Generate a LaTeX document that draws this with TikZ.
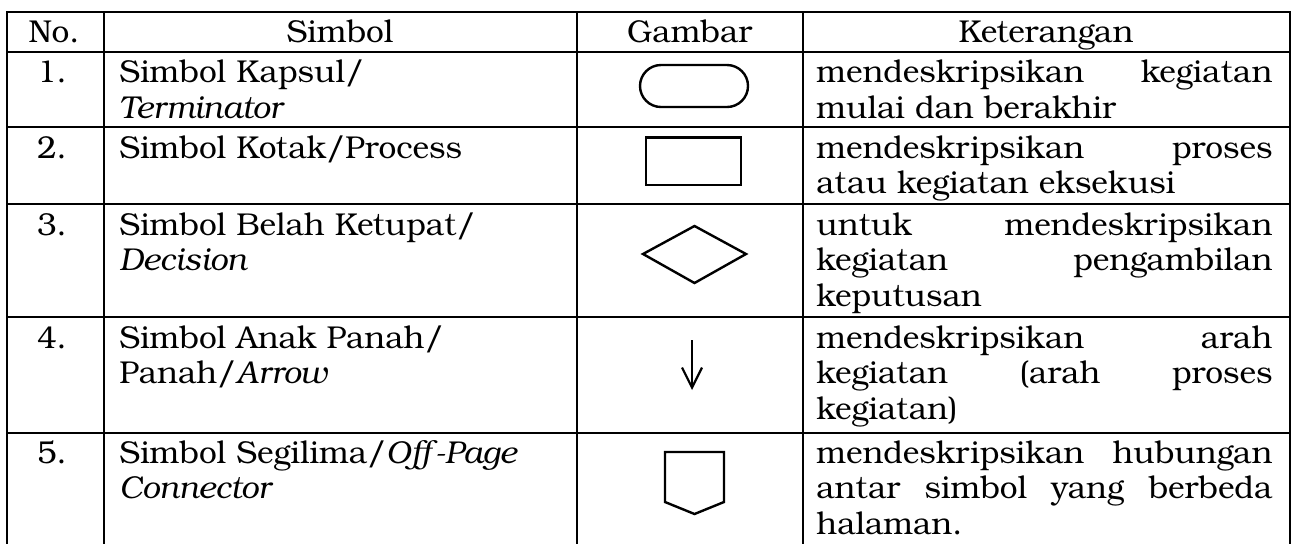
\documentclass[tikz,border=0pt]{standalone}
\usepackage{fontspec}
\setmainfont{texgyrebonum}[Extension=.otf,UprightFont=*-regular,ItalicFont=*-italic,BoldFont=*-bold,BoldItalicFont=*-bolditalic]
\usepackage{xcolor}
\usepackage{tikz}
\usetikzlibrary{arrows.meta}
\newcommand{\celtxt}[2]{\parbox[t]{#1}{\fontsize{15.8pt}{17.8pt}\selectfont\raggedright #2}}
\tikzset{
	garis/.style={line width=1pt},
	simbol/.style={line width=1.2pt,line join=miter},
	isi/.style={anchor=base west,inner sep=0pt},
	judul/.style={anchor=base,inner sep=0pt,font=\fontsize{15.8pt}{17.8pt}\selectfont}
}
\begin{document}
\begin{tikzpicture}[x=0.5pt,y=-0.5pt]
	\useasboundingbox (0,0) rectangle (1295,543);
	% garis tabel
	\draw[garis] (7.3,11.7) -- (1290,11.7);
	\draw[garis] (7.3,51.7) -- (1290,51.7);
	\draw[garis] (7.3,127) -- (1290,127);
	\draw[garis] (7.3,204) -- (1290,204);
	\draw[garis] (7.3,317) -- (1290,317);
	\draw[garis] (7.3,432.5) -- (1290,432.5);
	\draw[garis] (7.3,11.2) -- (7.3,545);
	\draw[garis] (104,11.2) -- (104,545);
	\draw[garis] (576.7,11.2) -- (576.7,545);
	\draw[garis] (802.7,11.2) -- (802.7,545);
	\draw[garis] (1290,11.2) -- (1290,545);
	% judul kolom
	\node[judul] (hno) at (54,42.5) {No.};
	\node[judul] (hsim) at (340,42.5) {Simbol};
	\node[judul] (hgam) at (689.7,42.5) {Gambar};
	\node[judul] (hket) at (1046,42.5) {Keterangan};
	% nomor
	\node[judul] (n1) at (52,82.7) {1.};
	\node[judul] (n2) at (52,158) {2.};
	\node[judul] (n3) at (52,235) {3.};
	\node[judul] (n4) at (52,348) {4.};
	\node[judul] (n5) at (52,463) {5.};
	% kolom simbol
	\node[isi] (s1) at (119,82.7) {\celtxt{225pt}{Simbol Kapsul/\\\textit{Terminator}}};
	\node[isi] (s2) at (119,158) {\celtxt{225pt}{Simbol Kotak/Process}};
	\node[isi] (s3) at (119,235) {\celtxt{225pt}{Simbol Belah Ketupat/\\\textit{Decision}}};
	\node[isi] (s4) at (119,348) {\celtxt{225pt}{Simbol Anak Panah/\\Panah/\textit{Arrow}}};
	\node[isi] (s5) at (119,463) {\celtxt{225pt}{Simbol Segilima/\textit{Off-Page}\\\textit{Connector}}};
	% kolom keterangan
	\node[isi] (k1) at (816,82.7) {\celtxt{228pt}{mendeskripsikan\hfill kegiatan\\mulai dan berakhir}};
	\node[isi] (k2) at (816,158) {\celtxt{228pt}{mendeskripsikan\hfill proses\\atau kegiatan eksekusi}};
	\node[isi] (k3) at (816,235) {\celtxt{228pt}{untuk\hfill mendeskripsikan\\kegiatan\hfill pengambilan\\keputusan}};
	\node[isi] (k4) at (816,348) {\celtxt{228pt}{mendeskripsikan\hfill arah\\kegiatan\hfill (arah\hfill proses\\kegiatan)}};
	\node[isi] (k5) at (816,463) {\celtxt{228pt}{mendeskripsikan\hfill hubungan\\antar\hfill simbol\hfill yang\hfill berbeda\\halaman.}};
	% gambar simbol
	\draw[simbol,rounded corners=10.5pt] (640,65) rectangle (748,107);
	\draw[simbol] (646,137.3) rectangle (741,185);
	\draw[simbol] (643,254) -- (694.5,226) -- (746,254) -- (694.5,283) -- cycle;
	\draw[line width=1.1pt,-{Straight Barb[length=10pt,width=10pt]}] (692,340) -- (692,390);
	\draw[simbol] (665,452) -- (724,452) -- (724,502) -- (694.5,514) -- (665,502) -- cycle;
\end{tikzpicture}
\end{document}
